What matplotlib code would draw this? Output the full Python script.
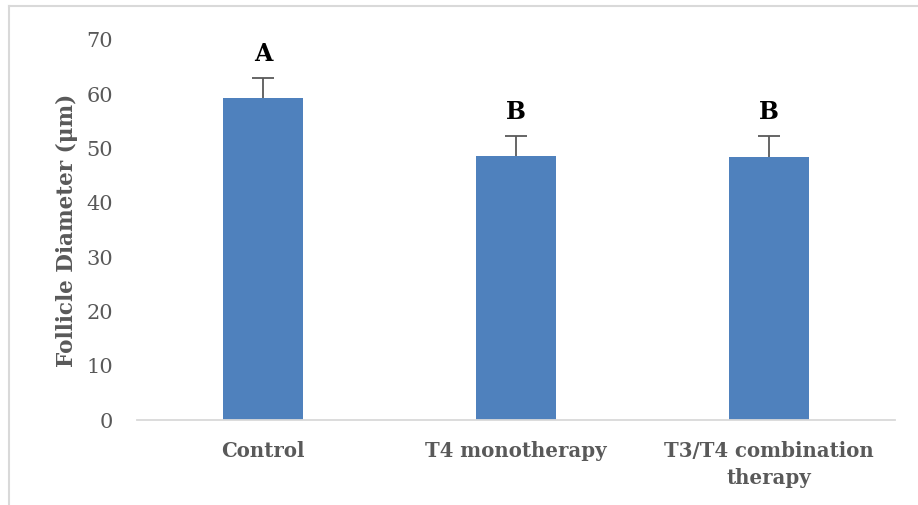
import numpy as np
import matplotlib.pyplot as plt
from matplotlib.lines import Line2D

# data
groups = ['Control', 'T4 monotherapy', 'T3/T4 combination\ntherapy']
diameter = [59.3, 48.6, 48.5]
sd_up = [3.6, 3.7, 3.8]
letters = ['A', 'B', 'B']

plt.rcParams['font.family'] = ['DejaVu Serif']
grey = '#595959'

fig = plt.figure(figsize=(9.18, 5.05), dpi=100)
ax = fig.add_axes([0.149, 0.168, 0.826, 0.753])

x = np.arange(len(groups))
ax.bar(x, diameter, width=0.317, color='#4f81bd', zorder=2)
eb = ax.errorbar(x, diameter, yerr=[np.zeros(len(sd_up)), sd_up], fmt='none',
                 ecolor=grey, elinewidth=1.3, capsize=8, capthick=1.3, zorder=3)
eb[1][0].set_visible(False)  # only the upper cap

# significance letters above the error bars
for xi, d, s, lab in zip(x, diameter, sd_up, letters):
    ax.annotate(lab, (xi, d + s), xytext=(0, 9), textcoords='offset points',
                ha='center', va='bottom', fontsize=17, fontweight='bold', color='black')

ax.set_xlim(-0.5, 2.5)
ax.set_ylim(0, 70)
ax.set_yticks(range(0, 71, 10))
ax.set_xticks(x)
ax.set_xticklabels(groups, fontsize=14.2, fontweight='bold', color=grey, linespacing=1.45)
ax.tick_params(axis='y', length=0, pad=17, labelsize=15, labelcolor=grey)
ax.tick_params(axis='x', length=0, pad=15)
ax.set_ylabel('Follicle Diameter (\u03bcm)', fontsize=15.5, fontweight='bold', color=grey, labelpad=6)

for side in ['top', 'right', 'left']:
    ax.spines[side].set_visible(False)
ax.spines['bottom'].set_color('#d9d9d9')
ax.spines['bottom'].set_linewidth(1.3)

# light frame of the chart area (top and left edge)
fig.add_artist(Line2D([8.5 / 918, 1], [1 - 5.5 / 505, 1 - 5.5 / 505], color='#d9d9d9', lw=1.5))
fig.add_artist(Line2D([8.5 / 918, 8.5 / 918], [0, 1 - 5.5 / 505], color='#d9d9d9', lw=1.5))

fig.savefig('out.png', dpi=100)
